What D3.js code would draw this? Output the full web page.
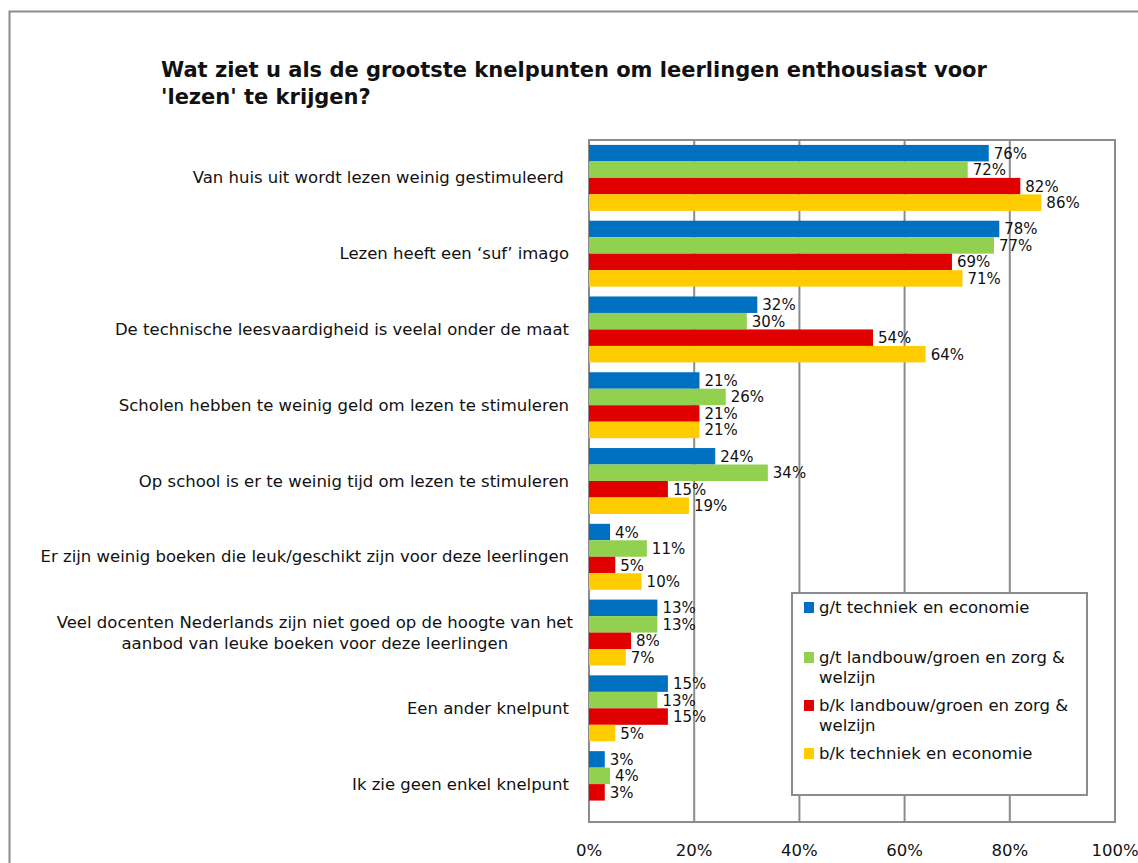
<!DOCTYPE html>
<html>
<head>
<meta charset="utf-8">
<script src="https://cdn.jsdelivr.net/npm/d3@7"></script>
<style>
  body { margin: 0; background: #fff; }
  svg text { font-family: "DejaVu Sans", Verdana, sans-serif; fill: #111; }
</style>
</head>
<body>
<svg id="chart" width="1138" height="863"></svg>
<script>
// categories (top to bottom)
const categories = [
  ["Van huis uit wordt lezen weinig gestimuleerd\u00a0"],
  ["Lezen heeft een \u2018suf\u2019 imago"],
  ["De technische leesvaardigheid is veelal onder de maat"],
  ["Scholen hebben te weinig geld om lezen te stimuleren"],
  ["Op school is er te weinig tijd om lezen te stimuleren"],
  ["Er zijn weinig boeken die leuk/geschikt zijn voor deze leerlingen"],
  ["Veel docenten Nederlands zijn niet goed op de hoogte van het", "aanbod van leuke boeken voor deze leerlingen"],
  ["Een ander knelpunt"],
  ["Ik zie geen enkel knelpunt"]
];

const seriesNames = [
  ["g/t techniek en economie"],
  ["g/t landbouw/groen en zorg &", "welzijn"],
  ["b/k landbouw/groen en zorg &", "welzijn"],
  ["b/k techniek en economie"]
];
const seriesColors = ["#0070C0", "#92D050", "#E00000", "#FFCC00"];

// values per series, in category order
const gtTechniek = [76, 78, 32, 21, 24, 4, 13, 15, 3];
const gtLandbouw = [72, 77, 30, 26, 34, 11, 13, 13, 4];
const bkLandbouw = [82, 69, 54, 21, 15, 5, 8, 15, 3];
const bkTechniek = [86, 71, 64, 21, 19, 10, 7, 5, null];
const series = [gtTechniek, gtLandbouw, bkLandbouw, bkTechniek];

const xTicks = [0, 20, 40, 60, 80, 100];

const svg = d3.select("#chart");

// outer frame
svg.append("rect")
  .attr("x", 9.5).attr("y", 11.5)
  .attr("width", 1200).attr("height", 1000)
  .attr("fill", "none").attr("stroke", "#8c8c8c").attr("stroke-width", 2);

// title
const title = svg.append("text")
  .style("font-size", "21px").style("font-weight", "bold");
title.append("tspan").attr("x", 161).attr("y", 77)
  .text("Wat ziet u als de grootste knelpunten om leerlingen enthousiast voor");
title.append("tspan").attr("x", 161).attr("y", 104)
  .text("'lezen' te krijgen?");

const plotL = 589, plotR = 1115, plotT = 140, plotB = 822;

const x = d3.scaleLinear().domain([0, 100]).range([plotL, plotR]);
const y = d3.scaleBand().domain(d3.range(categories.length)).range([plotT, plotB]).paddingInner(0.13).paddingOuter(0.065);
const ySub = d3.scaleBand().domain(d3.range(4)).range([0, y.bandwidth()]);

// gridlines
svg.append("g")
  .selectAll("line")
  .data(xTicks.slice(1, -1))
  .join("line")
  .attr("x1", d => x(d)).attr("x2", d => x(d))
  .attr("y1", plotT).attr("y2", plotB)
  .attr("stroke", "#8c8c8c").attr("stroke-width", 2);

// plot border
svg.append("rect")
  .attr("x", plotL).attr("y", plotT)
  .attr("width", plotR - plotL).attr("height", plotB - plotT)
  .attr("fill", "none").attr("stroke", "#8c8c8c").attr("stroke-width", 2);

// bars
const flat = [];
series.forEach((vals, s) => vals.forEach((v, c) => { if (v !== null) flat.push({ s, c, v }); }));

svg.append("g")
  .selectAll("rect")
  .data(flat)
  .join("rect")
  .attr("x", plotL)
  .attr("y", d => y(d.c) + ySub(d.s))
  .attr("width", d => x(d.v) - plotL)
  .attr("height", ySub.bandwidth())
  .attr("fill", d => seriesColors[d.s]);

// value labels
svg.append("g")
  .selectAll("text")
  .data(flat)
  .join("text")
  .attr("x", d => x(d.v) + 5)
  .attr("y", d => y(d.c) + ySub(d.s) + ySub.bandwidth() / 2 + 5.5)
  .style("font-size", "15px")
  .text(d => d.v + "%");

// category labels
const catG = svg.append("g");
categories.forEach((lines, i) => {
  const cy = y(i) + y.bandwidth() / 2;
  if (lines.length === 1) {
    catG.append("text")
      .attr("x", 569).attr("y", cy + 5.5)
      .attr("text-anchor", "end")
      .style("font-size", "16.5px")
      .style("white-space", "pre")
      .text(lines[0]);
  } else {
    const t1 = catG.append("text")
      .attr("x", 573).attr("y", cy - 5)
      .attr("text-anchor", "end")
      .style("font-size", "16.5px")
      .text(lines[0]);
    const w = t1.node().getComputedTextLength();
    catG.append("text")
      .attr("x", 573 - w / 2).attr("y", cy + 16)
      .attr("text-anchor", "middle")
      .style("font-size", "16.5px")
      .text(lines[1]);
  }
});

// x axis tick labels
svg.append("g")
  .selectAll("text")
  .data(xTicks)
  .join("text")
  .attr("x", d => x(d))
  .attr("y", 856)
  .attr("text-anchor", "middle")
  .style("font-size", "16.5px")
  .text(d => d + "%");

// legend
const legend = svg.append("g");
legend.append("rect")
  .attr("x", 792).attr("y", 593)
  .attr("width", 295).attr("height", 202)
  .attr("fill", "#fff").attr("stroke", "#8c8c8c").attr("stroke-width", 2);

const legendY = [613, 663, 711, 759];
seriesNames.forEach((lines, i) => {
  legend.append("rect")
    .attr("x", 804).attr("y", legendY[i] - 11)
    .attr("width", 10).attr("height", 11)
    .attr("fill", seriesColors[i]);
  lines.forEach((ln, j) => {
    legend.append("text")
      .attr("x", 819).attr("y", legendY[i] + j * 20)
      .style("font-size", "16.5px")
      .text(ln);
  });
});
</script>
</body>
</html>
